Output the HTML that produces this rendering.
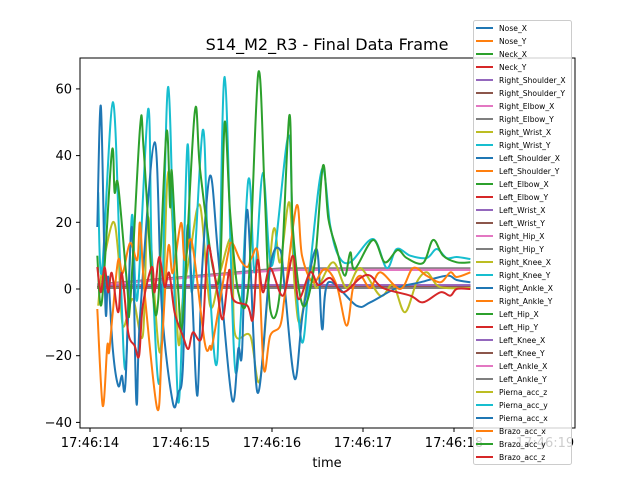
<!DOCTYPE html>
<html><head><meta charset="utf-8"><style>
body{margin:0;background:#fff;}
svg{display:block;font-family:"DejaVu Sans","Liberation Sans",sans-serif;}
</style></head><body>
<svg id="chart" width="640" height="480" viewBox="0 0 640 480">
<rect x="0" y="0" width="640" height="480" fill="#fff"/>
<text x="327" y="50" text-anchor="middle" font-size="16" fill="#000">S14_M2_R3 - Final Data Frame</text>
<g id="plot"></g>
<rect x="80" y="58" width="495" height="370" fill="none" stroke="#000" stroke-width="1"/>
<g id="xticks"></g>
<g id="yticks"></g>
<text x="327" y="467" text-anchor="middle" font-size="13" fill="#000">time</text>
<g id="legend"></g>
</svg>
<script>
const names = ["Nose_X","Nose_Y","Neck_X","Neck_Y","Right_Shoulder_X","Right_Shoulder_Y","Right_Elbow_X","Right_Elbow_Y","Right_Wrist_X","Right_Wrist_Y","Left_Shoulder_X","Left_Shoulder_Y","Left_Elbow_X","Left_Elbow_Y","Left_Wrist_X","Left_Wrist_Y","Right_Hip_X","Right_Hip_Y","Right_Knee_X","Right_Knee_Y","Right_Ankle_X","Right_Ankle_Y","Left_Hip_X","Left_Hip_Y","Left_Knee_X","Left_Knee_Y","Left_Ankle_X","Left_Ankle_Y","Pierna_acc_z","Pierna_acc_y","Pierna_acc_x","Brazo_acc_x","Brazo_acc_y","Brazo_acc_z"];
const flatStart = [0.8,0.5,1.0,0.3,0.9,0.6,1.2,0.4,0.7,0.5,0.8,0.6,1.0,0.4,1.1,0.3,1.2,1.4,0.6,0.5,0.7,0.4,0.9,0.6,1.1,0.5,1.2,0.3];
const flatEnd   = [0.8,0.5,1.0,0.3,0.9,0.6,1.2,0.4,0.7,0.5,0.8,0.6,1.0,0.4,1.1,0.3,5.7,6.2,0.6,0.5,0.7,0.4,0.9,0.6,1.1,0.5,5.8,0.3];
const flatT = [14.08,16.1,18.18];

const tOlive = [14.09,14.13,14.25,14.31,14.36,14.47,14.58,14.64,14.77,14.85,14.90,14.97,15.02,15.10,15.21,15.32,15.43,15.56,15.59,15.76,15.87,16.01,16.09,16.19,16.25,16.31,16.42,16.49,16.67,16.82,16.97,17.19,17.33,17.46,17.59,17.70,17.81,17.92,18.18];
const vOlive = [-5,5,20,10.8,-11,-3,-14,21.6,-19,32.7,22.8,-16,-3,10.8,25,-5,5,14.7,-13,-14,-27,17,8,26,0.3,-10,7,0.3,8,0.3,6.3,-2,1.2,-7,2,5,1.2,0.3,0.3];
const tCyan = [14.09,14.13,14.25,14.33,14.39,14.46,14.52,14.64,14.68,14.77,14.86,14.97,15.07,15.12,15.24,15.30,15.40,15.48,15.60,15.74,15.81,15.90,16.00,16.18,16.23,16.33,16.42,16.55,16.64,16.73,16.86,17.11,17.26,17.37,17.52,17.70,17.81,17.92,18.03,18.18];
const vCyan = [29,5,56,8.7,-24,22,-3,54,8.7,-27,60.6,-34,43,-1,47.7,8.7,-21,63.6,-25,32.7,5,34.8,7,46,16,-16,7,36,19,10,8,15,6.3,12,10,9.3,12,9.3,9.6,9];
const tBlue = [14.08,14.12,14.17,14.20,14.25,14.31,14.35,14.39,14.46,14.51,14.55,14.71,14.79,14.91,14.97,15.02,15.07,15.12,15.18,15.23,15.32,15.41,15.56,15.63,15.67,15.73,15.84,15.98,16.09,16.14,16.25,16.34,16.49,16.55,16.62,16.93,17.08,17.37,17.63,17.92,18.03,18.18];
const vBlue = [18.6,54.7,-6,3.6,-18,-29,-26,-28,18.6,-34,-8,44,-6,-34,-31,-24,18.6,-0.3,-32,4.8,34,9.6,-33,-18,-19,23.7,-31,6.6,11.7,0.3,-27,-7,12,-12,2,-5,-4,0.3,2,4,2.7,2];
const tOrange = [14.08,14.14,14.19,14.21,14.25,14.31,14.36,14.44,14.52,14.55,14.60,14.74,14.79,14.86,14.91,15.00,15.04,15.12,15.26,15.32,15.35,15.51,15.56,15.65,15.73,15.78,15.85,15.91,15.98,16.09,16.14,16.27,16.33,16.45,16.58,16.71,16.82,16.89,16.97,17.08,17.19,17.41,17.55,17.70,17.85,17.96,18.03,18.18];
const vOrange = [-6,-35,-17,-19,-7,8.7,4.8,13.8,8.7,19.8,-1,-36,-17,12.6,4.8,19.8,8.7,14,-16,-17,-16,9.6,13.8,8.7,6.6,9.6,9.6,-24,-14,-11,-2,25,10,2,6,1.2,-11,0.3,4,0.3,5,0,6.3,4,2,5,3.6,5];
const tGreen = [14.08,14.13,14.24,14.27,14.31,14.41,14.44,14.55,14.59,14.69,14.75,14.84,14.88,14.90,14.97,15.02,15.15,15.21,15.35,15.43,15.48,15.54,15.63,15.74,15.85,15.92,15.98,16.09,16.19,16.23,16.34,16.47,16.56,16.62,16.71,16.80,16.86,16.91,17.11,17.24,17.38,17.48,17.66,17.77,17.88,18.03,18.18];
const vGreen = [10,-4,41,29,31,0.6,-5,48.6,41.7,-1,-3,47,24.6,35,-1,-9,52.8,35.7,6.6,5.7,50,23,-1,0.6,64.8,28.8,-6,0,52,18,-5,8,37,21,12,4,11,6,14.7,8,11.7,9.3,7.8,14.7,10,8,8];
const tRed = [14.08,14.12,14.16,14.20,14.24,14.31,14.35,14.42,14.49,14.54,14.58,14.68,14.71,14.76,14.82,14.87,14.93,15.02,15.08,15.13,15.23,15.29,15.34,15.40,15.46,15.53,15.57,15.73,15.79,15.84,15.90,15.98,16.12,16.23,16.29,16.42,16.51,16.64,16.78,16.97,17.08,17.22,17.52,17.66,17.85,17.96,18.03,18.18];
const vRed = [6.6,-1,6.6,-1,4.8,-7,4.8,-13,-17,-20,-5,6.6,-1,9.6,0.6,4.8,-7,-14,-18,-13,-14,11.7,8.7,-1,-9,5.7,-3,-5,-9,8.7,-1,6.3,-2,10,-3,5,1.2,3.3,-1,3.3,4,0.3,-2,-4,-1,-2,0,0];

const xTickVals = [14,15,16,17,18,19];
const xTickLabels = ["17:46:14","17:46:15","17:46:16","17:46:17","17:46:18","17:46:19"];
const yTickVals = [60,40,20,0,-20,-40];
const yTickLabels = ["60","40","20","0","\u221220","\u221240"];

const colors = ["#1f77b4","#ff7f0e","#2ca02c","#d62728","#9467bd","#8c564b","#e377c2","#7f7f7f","#bcbd22","#17becf"];
const X = t => 90 + (t - 14) * 91;
const Y = v => 289 - v * 3.335;
const NS = "http://www.w3.org/2000/svg";
const mk = (tag, attrs, parent) => { const e = document.createElementNS(NS, tag); for (const k in attrs) e.setAttribute(k, attrs[k]); parent.appendChild(e); return e; };

function smoothPath(ts, vs) {
  const p = ts.map((t, i) => [X(t), Y(vs[i])]);
  let d = "M" + p[0][0].toFixed(1) + "," + p[0][1].toFixed(1);
  for (let i = 0; i < p.length - 1; i++) {
    const p0 = p[i - 1] || p[i], p1 = p[i], p2 = p[i + 1], p3 = p[i + 2] || p2;
    const c1 = [p1[0] + (p2[0] - p0[0]) / 6, p1[1] + (p2[1] - p0[1]) / 6];
    const c2 = [p2[0] - (p3[0] - p1[0]) / 6, p2[1] - (p3[1] - p1[1]) / 6];
    d += " C" + c1[0].toFixed(1) + "," + c1[1].toFixed(1) + " " + c2[0].toFixed(1) + "," + c2[1].toFixed(1) + " " + p2[0].toFixed(1) + "," + p2[1].toFixed(1);
  }
  return d;
}

const plot = document.getElementById("plot");
for (let i = 0; i < 28; i++) {
  const vs = [flatStart[i], flatEnd[i], flatEnd[i]];
  const d = flatT.map((t, j) => (j ? "L" : "M") + X(t).toFixed(1) + "," + Y(vs[j]).toFixed(1)).join(" ");
  const el = mk("path", {d: d, fill: "none", stroke: colors[i % 10], "stroke-width": 2}, plot);
  
  
}
const active = [[tOlive, vOlive], [tCyan, vCyan], [tBlue, vBlue], [tOrange, vOrange], [tGreen, vGreen], [tRed, vRed]];
active.forEach((s, k) => {
  const i = 28 + k;
  const el = mk("path", {d: smoothPath(s[0], s[1]), fill: "none", stroke: colors[i % 10], "stroke-width": 2, "stroke-linejoin": "round"}, plot);
  
  
});

const xg = document.getElementById("xticks");
xTickVals.forEach((t, i) => {
  const x = X(t);
  const tk = mk("line", {x1: x, y1: 428, x2: x, y2: 432, stroke: "#000", "stroke-width": 1}, xg);
  
  
  const lb = mk("text", {x: x, y: 447, "text-anchor": "middle", "font-size": 13, fill: "#000"}, xg);
  lb.textContent = xTickLabels[i];
  
  
});
const yg = document.getElementById("yticks");
yTickVals.forEach((v, i) => {
  const y = Y(v);
  const tk = mk("line", {x1: 76, y1: y, x2: 80, y2: y, stroke: "#000", "stroke-width": 1}, yg);
  
  
  const lb = mk("text", {x: 72, y: y + 4.5, "text-anchor": "end", "font-size": 13, fill: "#000"}, yg);
  lb.textContent = yTickLabels[i];
  
  
});

const lg = document.getElementById("legend");
const box = mk("rect", {x: 473.5, y: 20.5, width: 98, height: 444, rx: 2, fill: "#fff", "fill-opacity": 0.8, stroke: "#ccc", "stroke-width": 1}, lg);


names.forEach((n, i) => {
  const y = 28 + i * 13;
  const g = mk("g", {}, lg);
  
  
  mk("line", {x1: 476, y1: y, x2: 493, y2: y, stroke: colors[i % 10], "stroke-width": 2}, g);
  const tx = mk("text", {x: 499, y: y + 2.8, "font-size": 7.6, fill: "#000"}, g);
  tx.textContent = n;
});
</script>
</body></html>
